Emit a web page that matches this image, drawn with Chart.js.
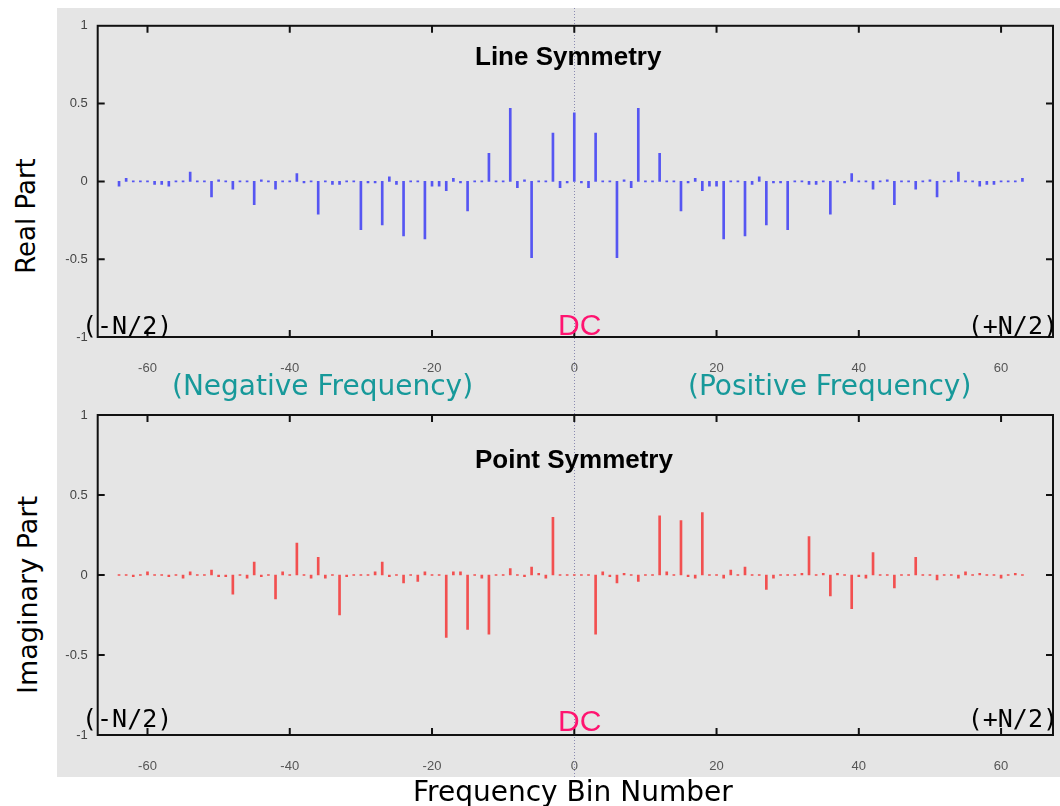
<!DOCTYPE html>
<html>
<head>
<meta charset="utf-8">
<script src="https://cdn.jsdelivr.net/npm/chart.js@4/dist/chart.umd.min.js"></script>
<style>
  body { margin: 0; width: 1060px; height: 806px; position: relative; overflow: hidden; background: #fff; }
  #bg { position: absolute; left: 57px; top: 8px; width: 1003px; height: 769px; background: #e5e5e5; }
  canvas { position: absolute; left: 57px; }
  .t { position: absolute; white-space: nowrap; line-height: 1; }
  .ttl { font: bold 26px "Liberation Sans", Arial, sans-serif; color: #000; left: 475px; }
  .dc { font: 30px "Liberation Sans", Arial, sans-serif; color: #ff1470; left: 558px; }
  .nq { font: 25px "DejaVu Sans Mono", monospace; color: #000; }
  .fq { font: 28px "DejaVu Sans", sans-serif; color: #17999a; top: 369px; }
  .ax { font: 26px "DejaVu Sans", sans-serif; color: #000; }
  .rot { transform: translate(-50%, -50%) rotate(-90deg); }
</style>
</head>
<body>
<div id="bg"></div>
<canvas id="realChart" width="1003" height="384" style="top:8px"></canvas>
<canvas id="imagChart" width="1003" height="385" style="top:392px"></canvas>

<div class="t ttl" style="top:41px">Line Symmetry</div>
<div class="t ttl" style="top:444px">Point Symmetry</div>
<div class="t dc" style="top:308px">DC</div>
<div class="t dc" style="top:704px">DC</div>
<div class="t nq" style="left:82px;top:311px">(-N/2)</div>
<div class="t nq" style="right:2px;top:311px">(+N/2)</div>
<div class="t nq" style="left:82px;top:704px">(-N/2)</div>
<div class="t nq" style="right:2px;top:704px">(+N/2)</div>
<div class="t fq" style="left:172px">(Negative Frequency)</div>
<div class="t fq" style="left:688px">(Positive Frequency)</div>
<div class="t ax" style="left:413px;top:775px;font-size:28px">Frequency Bin Number</div>
<div class="t ax rot" style="left:26px;top:216px">Real Part</div>
<div class="t ax rot" style="left:27px;top:595px;font-size:27px">Imaginary Part</div>

<script>
// frequency bins -64 .. 63
const bins = [
  -64, -63, -62, -61, -60, -59, -58, -57, -56, -55, -54, -53, -52, -51, -50, -49,
  -48, -47, -46, -45, -44, -43, -42, -41, -40, -39, -38, -37, -36, -35, -34, -33,
  -32, -31, -30, -29, -28, -27, -26, -25, -24, -23, -22, -21, -20, -19, -18, -17,
  -16, -15, -14, -13, -12, -11, -10, -9, -8, -7, -6, -5, -4, -3, -2, -1,
  0, 1, 2, 3, 4, 5, 6, 7, 8, 9, 10, 11, 12, 13, 14, 15,
  16, 17, 18, 19, 20, 21, 22, 23, 24, 25, 26, 27, 28, 29, 30, 31,
  32, 33, 34, 35, 36, 37, 38, 39, 40, 41, 42, 43, 44, 45, 46, 47,
  48, 49, 50, 51, 52, 53, 54, 55, 56, 57, 58, 59, 60, 61, 62, 63
];

const realPart = [
  -0.03, 0.02, 0, 0, 0, -0.02, -0.02, -0.03, 0, 0, 0.06, 0, 0, -0.10, 0.01, 0,
  -0.05, 0, 0, -0.15, 0.01, 0, -0.05, 0, 0, 0.05, -0.01, 0, -0.21, 0, -0.02, -0.02,
  0, 0, -0.31, -0.01, -0.01, -0.28, 0.03, -0.02, -0.35, 0, 0, -0.37, -0.03, -0.03, -0.06, 0.02,
  -0.01, -0.19, 0, 0, 0.18, 0, 0, 0.47, -0.04, 0.01, -0.49, 0, 0, 0.31, -0.04, -0.01,
  0.44, -0.01, -0.04, 0.31, 0, 0, -0.49, 0.01, -0.04, 0.47, 0, 0, 0.18, 0, 0, -0.19,
  -0.01, 0.02, -0.06, -0.03, -0.03, -0.37, 0, 0, -0.35, -0.02, 0.03, -0.28, -0.01, -0.01, -0.31, 0,
  0, -0.02, -0.02, 0, -0.21, 0, -0.01, 0.05, 0, 0, -0.05, 0, 0.01, -0.15, 0, 0,
  -0.05, 0, 0.01, -0.10, 0, 0, 0.06, 0, 0, -0.03, -0.02, -0.02, 0, 0, 0, 0.02
];

const imagPart = [
  0, 0, -0.01, 0, 0.02, 0, 0, -0.01, 0, -0.02, 0.02, 0, 0, 0.03, -0.01, -0.01,
  -0.12, 0, -0.02, 0.08, -0.01, 0, -0.15, 0.02, 0, 0.20, 0, -0.02, 0.11, -0.02, 0, -0.25,
  -0.01, 0, 0, 0, 0.02, 0.08, -0.01, 0, -0.05, 0, -0.04, 0.02, 0, 0, -0.39, 0.02,
  0.02, -0.34, 0, -0.02, -0.37, 0, 0, 0.04, 0, -0.01, 0.05, 0.01, -0.02, 0.36, 0, 0,
  0, 0, 0, -0.37, 0.02, -0.01, -0.05, 0.01, 0, -0.04, 0, 0, 0.37, 0.02, 0, 0.34,
  -0.01, -0.02, 0.39, 0, 0, -0.02, 0.03, 0, 0.05, 0, 0, -0.09, -0.02, 0, 0, 0,
  0.01, 0.24, 0, 0.01, -0.13, 0.01, 0, -0.21, -0.01, -0.02, 0.14, 0, 0, -0.08, 0, 0,
  0.11, 0, 0, -0.03, 0, 0, -0.02, 0.02, 0, 0.01, 0, 0, -0.02, 0, 0.01, 0
];

const xTicks = [-60, -40, -20, 0, 20, 40, 60];
const yTicks = [-1, -0.5, 0, 0.5, 1];

// frame, inward tick marks and the dotted DC line (gnuplot look)
const frame = {
  id: 'frame',
  beforeDatasetsDraw(chart) {
    const { ctx } = chart;
    const x0 = Math.round(chart.scales.x.getPixelForValue(0)) + 0.5;
    ctx.save();
    ctx.strokeStyle = '#8a8ab0';
    ctx.lineWidth = 1;
    ctx.setLineDash([1, 2]);
    ctx.beginPath();
    ctx.moveTo(x0, 0);
    ctx.lineTo(x0, chart.height);
    ctx.stroke();
    ctx.restore();
  },
  afterDraw(chart) {
    const { ctx, chartArea: a, scales: { x, y } } = chart;
    ctx.save();
    ctx.strokeStyle = '#111';
    ctx.lineWidth = 2;
    ctx.strokeRect(a.left, a.top, a.right - a.left, a.bottom - a.top);
    ctx.beginPath();
    xTicks.forEach(v => {
      const px = x.getPixelForValue(v);
      ctx.moveTo(px, a.top); ctx.lineTo(px, a.top + 7);
      ctx.moveTo(px, a.bottom); ctx.lineTo(px, a.bottom - 7);
    });
    yTicks.forEach(v => {
      if (Math.abs(v) === 1) return;
      const py = y.getPixelForValue(v);
      ctx.moveTo(a.left, py); ctx.lineTo(a.left + 7, py);
      ctx.moveTo(a.right, py); ctx.lineTo(a.right - 7, py);
    });
    ctx.stroke();
    ctx.restore();
  }
};

function buildChart({ id, values, color, padTop, axisHeight }) {
  const tickFont = { family: 'Liberation Sans, Arial, sans-serif', size: 13 };
  return new Chart(document.getElementById(id), {
    type: 'bar',
    data: {
      datasets: [{
        data: bins.map((b, i) => ({ x: b, y: values[i] })),
        backgroundColor: color,
        barThickness: 2,
        minBarLength: 1
      }]
    },
    options: {
      responsive: false,
      animation: false,
      layout: { padding: { top: padTop, right: 7, left: 0, bottom: 0 } },
      plugins: { legend: { display: false }, tooltip: { enabled: false } },
      scales: {
        x: {
          type: 'linear',
          min: -67,
          max: 67.3,
          offset: false,
          grid: { display: false, drawTicks: false },
          border: { display: false },
          afterBuildTicks: s => { s.ticks = xTicks.map(v => ({ value: v })); },
          afterFit: s => { s.height = axisHeight; },
          ticks: { padding: 24, color: '#555', font: tickFont, maxRotation: 0, autoSkip: false }
        },
        y: {
          min: -1,
          max: 1,
          grid: { display: false, drawTicks: false },
          border: { display: false },
          afterBuildTicks: s => { s.ticks = yTicks.map(v => ({ value: v })); },
          afterFit: s => { s.width = 40.7; },
          ticks: { padding: 10, color: '#444', font: tickFont, callback: v => String(v) }
        }
      }
    },
    plugins: [frame]
  });
}

buildChart({ id: 'realChart', values: realPart, color: '#5656f2', padTop: 9, axisHeight: 55 });
buildChart({ id: 'imagChart', values: imagPart, color: '#f25050', padTop: 23, axisHeight: 42 });
</script>
</body>
</html>
